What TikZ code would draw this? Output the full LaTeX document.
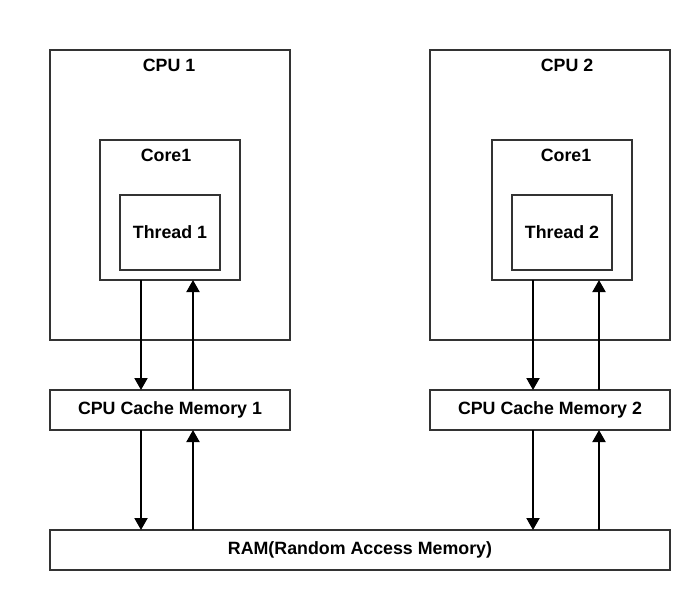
\documentclass[tikz,border=0pt]{standalone}
\usepackage{fontspec}
\setmainfont{Liberation Sans}
\usetikzlibrary{arrows.meta}

\begin{document}
\begin{tikzpicture}[x=1pt, y=-1pt,
    box/.style={draw=black!80, line width=2pt, inner sep=0pt, outer sep=0pt},
    txt/.style={font=\fontsize{17.8}{20}\selectfont\bfseries},
    arr/.style={line width=2pt, -{Triangle[length=12pt, width=13pt]}}]
    \useasboundingbox (0,0) rectangle (690,590);

    % CPU boxes
    \node[box, minimum width=240, minimum height=290] (cpu1) at (170,195) {};
    \node[box, minimum width=240, minimum height=290] (cpu2) at (550,195) {};
    \node[txt] (cpu1lbl) at (169,65) {CPU 1};
    \node[txt] (cpu2lbl) at (567,65) {CPU 2};

    % Cores and threads
    \node[box, minimum width=140, minimum height=140] (core1) at (170,210) {};
    \node[box, minimum width=140, minimum height=140] (core2) at (562,210) {};
    \node[txt] (core1lbl) at (166,155) {Core1};
    \node[txt] (core2lbl) at (566,155) {Core1};
    \node[box, txt, minimum width=100, minimum height=75] (thread1) at (170,232.5) {Thread 1};
    \node[box, txt, minimum width=100, minimum height=75] (thread2) at (562,232.5) {Thread 2};

    % Memory
    \node[box, txt, minimum width=240, minimum height=40] (cache1) at (170,410) {CPU Cache Memory 1};
    \node[box, txt, minimum width=240, minimum height=40] (cache2) at (550,410) {CPU Cache Memory 2};
    \node[box, txt, minimum width=620, minimum height=40] (ram) at (360,550) {RAM(Random Access Memory)};

    % Data paths
    \foreach \n/\xd/\xu in {1/141/193, 2/533/599} {
      \coordinate (dn\n) at (\xd,0);
      \coordinate (up\n) at (\xu,0);
      \draw[arr] (core\n.south -| dn\n) -- (cache\n.north -| dn\n);
      \draw[arr] (cache\n.north -| up\n) -- (core\n.south -| up\n);
      \draw[arr] (cache\n.south -| dn\n) -- (ram.north -| dn\n);
      \draw[arr] (ram.north -| up\n) -- (cache\n.south -| up\n);
    }
\end{tikzpicture}
\end{document}
